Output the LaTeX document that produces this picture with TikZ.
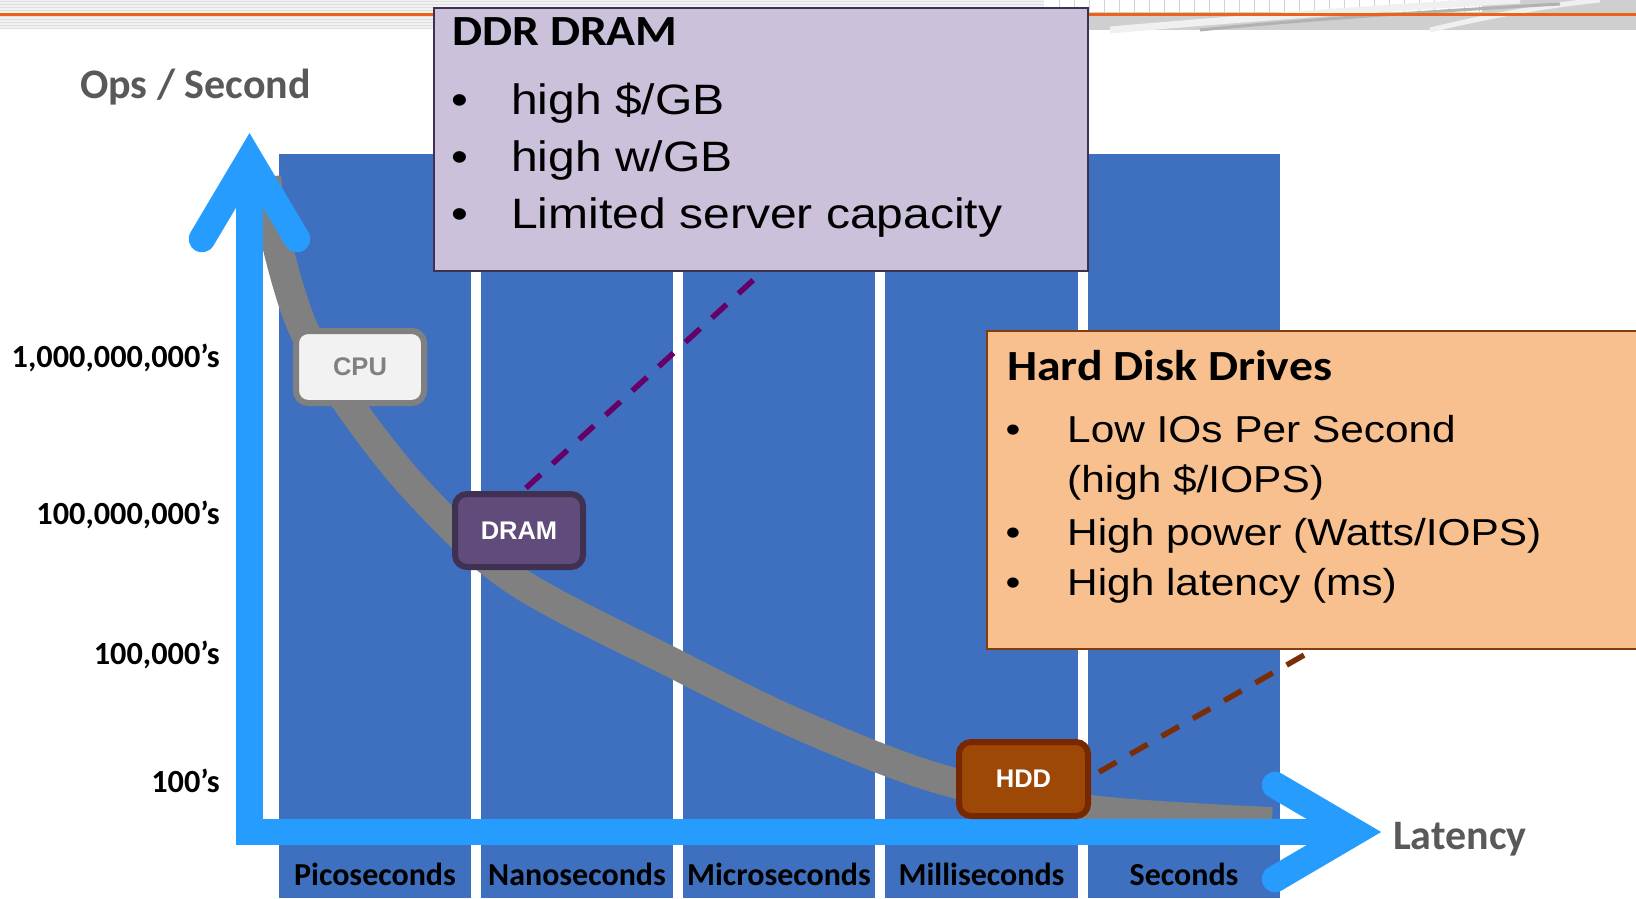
\documentclass[tikz,border=0pt]{standalone}
\usepackage{fontspec}
\setmainfont{Liberation Sans}
\newfontfamily\calfont{Carlito}
\newfontfamily\wideboldfont[FakeStretch=1.11]{Carlito}
\newfontfamily\widefont[FakeStretch=1.13]{Liberation Sans}

\definecolor{colblue}{RGB}{62,112,191}
\definecolor{axisblue}{RGB}{38,156,255}
\definecolor{curvegray}{RGB}{128,128,128}
\definecolor{cpufill}{RGB}{242,242,242}
\definecolor{cpuline}{RGB}{128,128,128}
\definecolor{dramfill}{RGB}{96,75,122}
\definecolor{dramline}{RGB}{64,49,82}
\definecolor{hddfill}{RGB}{157,72,6}
\definecolor{hddline}{RGB}{120,40,0}
\definecolor{ddrfill}{RGB}{204,193,218}
\definecolor{ddrline}{RGB}{63,49,81}
\definecolor{hdfill}{RGB}{249,192,143}
\definecolor{hdline}{RGB}{132,60,12}
\definecolor{labelgray}{RGB}{89,89,89}
\definecolor{ddrdash}{RGB}{102,0,102}
\definecolor{hdddash}{RGB}{122,46,8}
\definecolor{rulecolor}{RGB}{236,98,26}

\begin{document}
\begin{tikzpicture}[x=1pt,y=-1pt,
  column/.style={fill=colblue},
  axisline/.style={draw=axisblue,line width=26.5pt,line join=miter},
  axishead/.style={axisline,line cap=round},
  curveline/.style={draw=curvegray,line width=30pt,line cap=butt},
  chip/.style={rounded corners=12pt,line width=6pt,inner sep=0pt,
    minimum width=128pt,minimum height=73pt,
    font=\fontsize{25.5}{30}\selectfont\bfseries},
  infobox/.style={rectangle,line width=2.5pt,inner sep=0pt},
  boxtitle/.style={anchor=base west,inner sep=0pt,
    font=\wideboldfont\fontsize{43}{50}\selectfont\bfseries},
  ddrtext/.style={anchor=base west,inner sep=0pt,font=\widefont\fontsize{42.5}{57}\selectfont},
  ddrbullet/.style={anchor=base,inner sep=0pt,font=\widefont\fontsize{42.5}{57}\selectfont},
  hdtext/.style={anchor=base west,inner sep=0pt,font=\widefont\fontsize{37.5}{50}\selectfont},
  hdbullet/.style={anchor=base,inner sep=0pt,font=\widefont\fontsize{37.5}{50}\selectfont},
  ticklabel/.style={anchor=base east,inner sep=0pt,
    font=\calfont\fontsize{32.3}{38}\selectfont\bfseries},
  collabel/.style={anchor=base,inner sep=0pt,
    font=\calfont\fontsize{32}{38}\selectfont\bfseries},
  axislabel/.style={anchor=base west,inner sep=0pt,text=labelgray,
    font=\calfont\fontsize{42}{50}\selectfont\bfseries},
  leader/.style={line width=5.5pt,dash pattern=on 20pt off 16pt}
]
\useasboundingbox (0,0) rectangle (1636,898);
\clip (0,0) rectangle (1636,898);

% header strip with the orange rule
\fill[gray!10] (0,0) rectangle (1636,29);
\foreach \k in {0,...,9}
  \fill[gray!26] (0,{1+3*\k}) rectangle (1089,{2.3+3*\k});
\fill[gray!38] (1089,0) rectangle (1636,30);
\fill[white] (1044,0) rectangle (1482,12);
\draw[gray!35,line width=1pt] (1044,12) -- (1482,12);
\foreach \gx in {1059,1074,...,1482}
  \draw[gray!35,line width=1pt] (\gx,0) -- (\gx,12);
\draw[gray!12,line width=7pt] (1110,30) .. controls (1250,18) and (1380,8) .. (1520,0);
\draw[gray!12,line width=5pt] (1430,30) .. controls (1480,18) and (1540,6) .. (1600,0);
\draw[gray!60,line width=3pt] (1200,30) .. controls (1300,20) and (1420,12) .. (1560,4);
\draw[rulecolor,line width=3.5pt] (0,14.5) -- (1636,14.5);

% latency columns
\fill[column] (279,154) rectangle (471,898);
\fill[column] (481,154) rectangle (673,898);
\fill[column] (683,154) rectangle (875,898);
\fill[column] (885,154) rectangle (1078,898);
\fill[column] (1088,154) rectangle (1280,898);

% ops versus latency curve
\draw[curveline] plot[smooth,tension=0.55] coordinates
  {(266,177) (276,240) (303,328) (350,406) (420,494) (515,580)
   (673,663) (800,725) (940,779) (1091,810) (1272,822)};

% axes
\coordinate (ytip) at (249.5,159);
\coordinate (origin) at (249.5,832);
\coordinate (xtip) at (1355,832);
\draw[axisline] (ytip) -- (origin) -- (xtip);
\draw[axishead] (202,239) -- (ytip) -- (297,239);
\draw[axishead] (1275,785) -- (xtip) -- (1275,879);

% axis titles
\node[axislabel] (opslabel) at (80,98) {Ops / Second};
\node[axislabel] (latlabel) at (1393,849) {Latency};

% rate labels
\node[ticklabel] (t1) at (220,367) {1,000,000,000’s};
\node[ticklabel] (t2) at (220,524) {100,000,000’s};
\node[ticklabel] (t3) at (220,664) {100,000’s};
\node[ticklabel] (t4) at (220,792) {100’s};

% column labels
\node[collabel] (c1) at (375,885) {Picoseconds};
\node[collabel] (c2) at (577,885) {Nanoseconds};
\node[collabel] (c3) at (779,885) {Microseconds};
\node[collabel] (c4) at (981.5,885) {Milliseconds};
\node[collabel] (c5) at (1184,885) {Seconds};

% information boxes
\node[infobox,fill=ddrfill,draw=ddrline,minimum width=654pt,minimum height=263pt]
  (ddr) at (761,139.5) {};
\node[infobox,fill=hdfill,draw=hdline,minimum width=680pt,minimum height=318pt]
  (hd) at (1327,490) {};

\node[boxtitle] (ddrtitle) at (452,45) {DDR DRAM};
\node[ddrbullet] (db1) at (460,114) {•};
\node[ddrtext] (dt1) at (511,114) {high \$/GB};
\node[ddrbullet] (db2) at (460,171) {•};
\node[ddrtext] (dt2) at (511,171) {high w/GB};
\node[ddrbullet] (db3) at (460,228) {•};
\node[ddrtext] (dt3) at (511,228) {Limited server capacity};

\node[boxtitle] (hdtitle) at (1007,380) {Hard Disk Drives};
\node[hdbullet] (hb1) at (1013,442) {•};
\node[hdtext] (ht1) at (1067,442) {Low IOs Per Second};
\node[hdtext] (ht1b) at (1067,492) {(high \$/IOPS)};
\node[hdbullet] (hb2) at (1013,545) {•};
\node[hdtext] (ht2) at (1067,545) {High power (Watts/IOPS)};
\node[hdbullet] (hb3) at (1013,595) {•};
\node[hdtext] (ht3) at (1067,595) {High latency (ms)};

% leaders from the chips to their boxes
\coordinate (ddrfoot) at (762,272);
\coordinate (hdfoot) at (1313,650);
\coordinate (dramtop) at (526,488);
\coordinate (hddside) at (1099,772);
\draw[leader,draw=ddrdash] (dramtop) -- (ddrfoot);
\draw[leader,draw=hdddash] (hddside) -- (hdfoot);

% device chips
\node[chip,fill=cpufill,draw=cpuline,text=cpuline,minimum height=72pt]
  (cpu) at (360,367) {CPU};
\node[chip,fill=dramfill,draw=dramline,text=white] (dram) at (519,530.5) {DRAM};
\node[chip,fill=hddfill,draw=hddline,text=white,minimum width=129pt,minimum height=74pt]
  (hdd) at (1023.5,779) {HDD};
\end{tikzpicture}
\end{document}
